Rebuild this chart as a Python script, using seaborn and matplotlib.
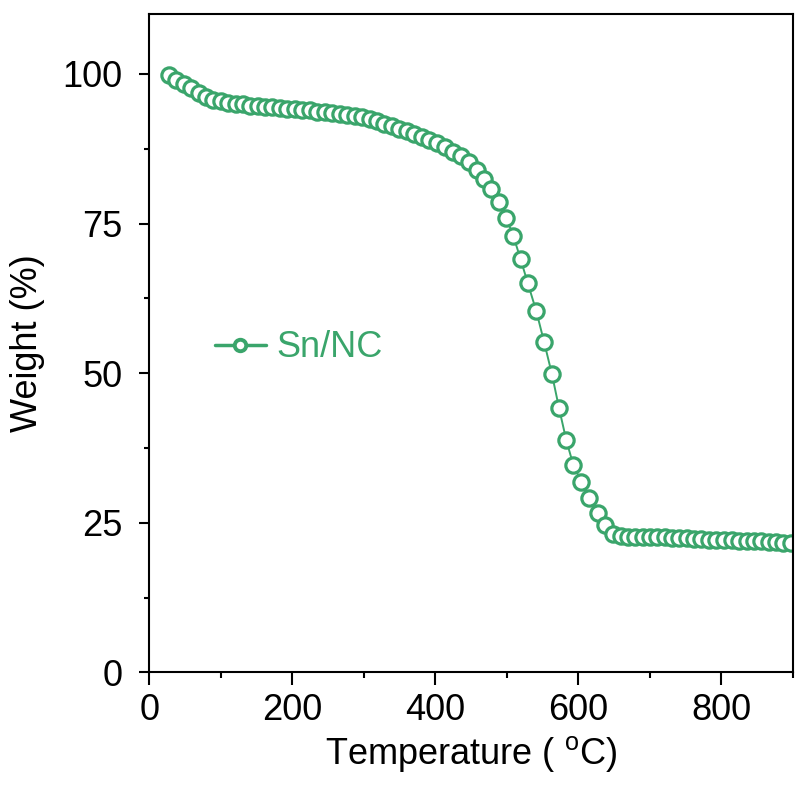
import matplotlib
matplotlib.use("Agg")
import matplotlib.pyplot as plt
import seaborn as sns
import pandas as pd
from matplotlib.ticker import MultipleLocator

# ---- data ----
temperature = [27, 37, 48, 58, 69, 79, 89, 100, 110, 121, 131, 141, 152, 162, 172,
               183, 193, 204, 214, 224, 235, 245, 256, 266, 276, 287, 297, 308, 318,
               328, 339, 349, 360, 370, 381, 391, 402,
               413, 425, 436, 447, 458, 468, 478, 489, 499, 509, 519, 529, 541, 552,
               563, 573, 583, 593, 604, 615, 627, 637, 648, 660,
               669, 679, 690, 700, 710, 721, 731, 741, 752, 762, 772, 783, 793, 803,
               814, 824, 835, 845, 855, 866, 876, 886, 897]
weight = [99.8, 99.0, 98.3, 97.6, 96.8, 96.1, 95.7, 95.4, 95.2, 95.0, 94.9, 94.7, 94.6,
          94.5, 94.4, 94.3, 94.2, 94.1, 94.0, 93.9, 93.7, 93.6, 93.5, 93.3, 93.2, 93.0,
          92.8, 92.5, 92.1, 91.7, 91.3, 90.8, 90.4, 89.9, 89.4, 88.9, 88.4,
          87.8, 86.9, 86.2, 85.3, 84.0, 82.5, 80.7, 78.6, 76.0, 72.9, 69.1, 65.1, 60.4,
          55.2, 49.8, 44.1, 38.8, 34.6, 31.9, 29.1, 26.6, 24.6, 23.2, 22.8,
          22.7, 22.7, 22.7, 22.7, 22.6, 22.6, 22.5, 22.5, 22.4, 22.3, 22.3, 22.2, 22.2,
          22.1, 22.1, 22.0, 22.0, 21.9, 21.9, 21.8, 21.8, 21.7, 21.6]
series_label = "Sn/NC"
x_ticks = [0, 200, 400, 600, 800]
y_ticks = [0, 25, 50, 75, 100]

df = pd.DataFrame({"Temperature": temperature, "Weight": weight})

sns.set_style("ticks")
plt.rcParams["font.family"] = ["Liberation Sans", "DejaVu Sans"]
plt.rcParams["mathtext.fontset"] = "custom"
plt.rcParams["mathtext.rm"] = "Liberation Sans"
plt.rcParams["mathtext.it"] = "Liberation Sans"
plt.rcParams["text.color"] = "black"
plt.rcParams["axes.labelcolor"] = "black"
plt.rcParams["xtick.color"] = "black"
plt.rcParams["ytick.color"] = "black"

green = "#3aa56b"

fig = plt.figure(figsize=(7.95, 7.87), dpi=100)
ax = fig.add_axes([0.1878, 0.1455, 0.9975 - 0.1878, 0.9822 - 0.1455])

sns.lineplot(data=df, x="Temperature", y="Weight", ax=ax, color=green,
             linewidth=1.4, marker="o", markersize=11, markerfacecolor="white",
             markeredgecolor=green, markeredgewidth=2.3, label=series_label,
             sort=False)

ax.set_xlim(0, 900)
ax.set_ylim(0, 110)
ax.set_xticks(x_ticks)
ax.set_yticks(y_ticks)
ax.xaxis.set_minor_locator(MultipleLocator(100))
ax.yaxis.set_minor_locator(MultipleLocator(12.5))

for s in ax.spines.values():
    s.set_visible(True)
    s.set_linewidth(1.5)
    s.set_color("black")

ax.tick_params(axis="x", which="major", direction="out", length=9, width=1.5,
               labelsize=26, pad=6)
ax.tick_params(axis="x", which="minor", direction="out", length=4.5, width=1.5)
ax.tick_params(axis="y", which="major", direction="out", length=7.5, width=1.5,
               labelsize=26, pad=12)
ax.tick_params(axis="y", which="minor", direction="out", length=3.5, width=1.5)

ax.set_xlabel("Temperature ( $^{\\mathrm{o}}$C)", fontsize=26, labelpad=4)
ax.set_ylabel("Weight (%)", fontsize=26, labelpad=12)

leg = ax.legend(loc="center left", bbox_to_anchor=(0.102, 0.493), frameon=False,
                fontsize=26, handlelength=1.4, handletextpad=0.3, borderpad=0,
                borderaxespad=0, markerscale=0.75, labelcolor="linecolor")
for h in leg.legend_handles:
    h.set_linewidth(2.5)
    h.set_markeredgewidth(2.8)

fig.savefig("out.png", dpi=100)
